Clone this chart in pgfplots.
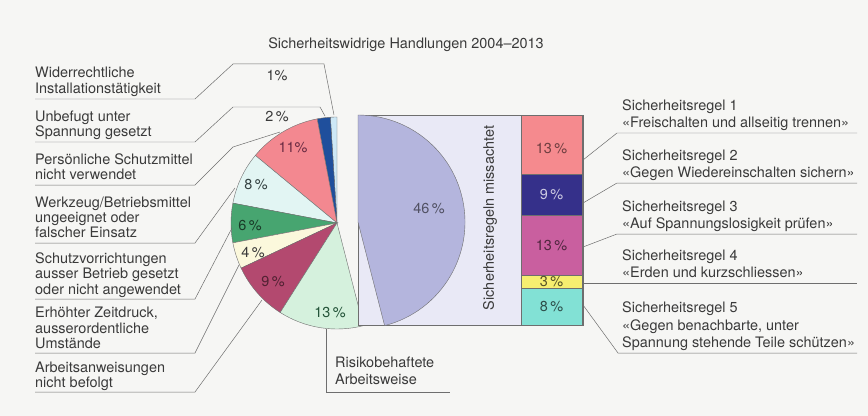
\documentclass[border=0pt]{standalone}
\usepackage{pgfplots}
\usepackage{pgfplotstable}
\pgfplotsset{compat=1.18}
\usepackage{fontspec}
\setmainfont{TeX Gyre Heros}

% colours
\definecolor{bg}{HTML}{F6F6F4}
\definecolor{txt}{HTML}{3A3A3A}
\definecolor{edge}{HTML}{6E6E6E}
\definecolor{pA}{HTML}{CDE8F6}
\definecolor{pB}{HTML}{1F4F9C}
\definecolor{pC}{HTML}{F38890}
\definecolor{pD}{HTML}{E2F5F3}
\definecolor{pE}{HTML}{47A570}
\definecolor{pF}{HTML}{FBF8DC}
\definecolor{pG}{HTML}{B3496F}
\definecolor{pH}{HTML}{D5F1DD}
\definecolor{big}{HTML}{B4B5DD}
\definecolor{boxbg}{HTML}{E9E9F6}
\definecolor{bA}{HTML}{F58A8E}
\definecolor{bB}{HTML}{35308A}
\definecolor{bC}{HTML}{C95F9F}
\definecolor{bD}{HTML}{F6EE70}
\definecolor{bE}{HTML}{82E1D5}

% left pie: slices counter-clockwise from the top
\pgfplotstableread{
v  col
1  pA
2  pB
11 pC
8  pD
6  pE
4  pF
9  pG
13 pH
}\piedata

\newcommand{\lab}[3]{\node[anchor=base west, inner sep=0pt, text=txt] at (axis cs:#1,#2) {#3};}

\begin{document}
\begin{tikzpicture}[font=\fontsize{14.5}{15.5}\selectfont]
\begin{axis}[
    name=main,
    width=868bp, height=416bp, scale only axis,
    xmin=0, xmax=868, ymin=0, ymax=416,
    y dir=reverse,
    hide axis, clip=false,
]
\fill[bg] (axis cs:0,0) rectangle (axis cs:868,416);

% title
\node[text=txt] at (axis cs:406,45) {Sicherheitswidrige Handlungen 2004--2013};

% pie slices from the table
\def\angstart{90}
\pgfplotstablegetrowsof{\piedata}
\pgfmathtruncatemacro\N{\pgfplotsretval-1}
\pgfplotsforeachungrouped \i in {0,...,\N}{%
  \pgfplotstablegetelem{\i}{v}\of\piedata \let\v\pgfplotsretval
  \pgfplotstablegetelem{\i}{col}\of\piedata \let\c\pgfplotsretval
  \pgfmathsetmacro\angend{\angstart+3.6*\v}%
  \edef\temp{\noexpand\filldraw[fill=\c, draw=edge, line width=0.4pt]
    (axis cs:337,223) -- ++(\angstart:106bp)
    arc[start angle=\angstart, end angle=\angend, radius=106bp] -- cycle;}%
  \temp
  \let\angstart\angend
}

% box behind the split-off part and the 46 % piece
\filldraw[fill=boxbg, draw=edge, line width=0.4pt] (axis cs:358,115) rectangle (axis cs:583,325);
\edef\temp{\noexpand\filldraw[fill=big, draw=edge, line width=0.4pt]
  (axis cs:358,222) -- ++(\angstart:107bp)
  arc[start angle=\angstart, end angle=450, radius=107bp] -- cycle;}
\temp

% slice values
\node[text=txt] at (axis cs:277,76) {1\%};
\node[text=txt] at (axis cs:277,117) {2\,\%};
\node[text=pG!60!black] at (axis cs:293,148) {11\%};
\node[text=txt!90!teal] at (axis cs:256,185) {8\,\%};
\node[text=pE!35!black] at (axis cs:250,226) {6\,\%};
\node[text=txt] at (axis cs:253,253) {4\,\%};
\node[text=pG!45!black] at (axis cs:273,282) {9\,\%};
\node[text=pE!50!black] at (axis cs:330,313) {13\,\%};
\node[text=big!45!black] at (axis cs:429,209) {46\,\%};
\node[rotate=90, text=txt] at (axis cs:490,218) {Sicherheitsregeln missachtet};

% left leader lines
\draw[edge, line width=0.5pt] (axis cs:35,99) -- (axis cs:195,99) -- (axis cs:233,64) -- (axis cs:324,64) -- (axis cs:334,115);
\draw[edge, line width=0.5pt] (axis cs:35,142) -- (axis cs:195,142) -- (axis cs:233,107) -- (axis cs:320,107) -- (axis cs:325,116);
\draw[edge, line width=0.5pt] (axis cs:35,185) -- (axis cs:195,185) -- (axis cs:233,147) -- (axis cs:280,132);
\draw[edge, line width=0.5pt] (axis cs:35,243) -- (axis cs:195,243) -- (axis cs:235,188);
\draw[edge, line width=0.5pt] (axis cs:35,299) -- (axis cs:195,299) -- (axis cs:232,228);
\draw[edge, line width=0.5pt] (axis cs:35,353) -- (axis cs:195,353) -- (axis cs:239,265);
\draw[edge, line width=0.5pt] (axis cs:35,392) -- (axis cs:195,392) -- (axis cs:262,300);
\draw[edge, line width=0.5pt] (axis cs:326,329) -- (axis cs:326,392) -- (axis cs:450,392);

% right leader lines
\draw[edge, line width=0.5pt] (axis cs:583,160) -- (axis cs:617,133) -- (axis cs:857,133);
\draw[edge, line width=0.5pt] (axis cs:583,203) -- (axis cs:617,183) -- (axis cs:857,183);
\draw[edge, line width=0.5pt] (axis cs:583,247) -- (axis cs:617,234) -- (axis cs:857,234);
\draw[edge, line width=0.5pt] (axis cs:583,283) -- (axis cs:857,283);
\draw[edge, line width=0.5pt] (axis cs:583,305) -- (axis cs:618,353) -- (axis cs:857,353);

% left labels
\lab{35}{78}{Widerrechtliche}
\lab{35}{93}{Installationst\"atigkeit}
\lab{35}{121}{Unbefugt unter}
\lab{35}{136}{Spannung gesetzt}
\lab{35}{164}{Pers\"onliche Schutzmittel}
\lab{35}{179}{nicht verwendet}
\lab{35}{207}{Werkzeug/Betriebsmittel}
\lab{35}{222}{ungeeignet oder}
\lab{35}{237}{falscher Einsatz}
\lab{35}{263}{Schutzvorrichtungen}
\lab{35}{278}{ausser Betrieb gesetzt}
\lab{35}{294}{oder nicht angewendet}
\lab{35}{317}{Erh\"ohter Zeitdruck,}
\lab{35}{333}{ausserordentliche}
\lab{35}{348}{Umst\"ande}
\lab{35}{372}{Arbeitsanweisungen}
\lab{35}{387}{nicht befolgt}
\lab{335}{367}{Risikobehaftete}
\lab{335}{384}{Arbeitsweise}

% right labels
\lab{622}{110}{Sicherheitsregel 1}
\lab{622}{127.5}{«Freischalten und allseitig trennen»}
\lab{622}{160}{Sicherheitsregel 2}
\lab{622}{177.5}{«Gegen Wiedereinschalten sichern»}
\lab{622}{211}{Sicherheitsregel 3}
\lab{622}{228.5}{«Auf Spannungslosigkeit pr\"ufen»}
\lab{622}{260}{Sicherheitsregel 4}
\lab{622}{277.5}{«Erden und kurzschliessen»}
\lab{622}{312.5}{Sicherheitsregel 5}
\lab{622}{330}{«Gegen benachbarte, unter}
\lab{622}{347.5}{Spannung stehende Teile sch\"utzen»}
\end{axis}

% stacked bar: the 46 % split by safety rule (bottom to top)
\begin{axis}[
    at={(521bp,91bp)}, anchor=south west,
    width=61bp, height=210bp, scale only axis,
    xmin=-0.5, xmax=0.5, ymin=0, ymax=46,
    ybar stacked, bar width=61bp,
    hide axis, clip=false,
]
\addplot[fill=bE, draw=edge, line width=0.3pt] coordinates {(0,8)};
\addplot[fill=bD, draw=edge, line width=0.3pt] coordinates {(0,3)};
\addplot[fill=bC, draw=edge, line width=0.3pt] coordinates {(0,13)};
\addplot[fill=bB, draw=edge, line width=0.3pt] coordinates {(0,9)};
\addplot[fill=bA, draw=edge, line width=0.3pt] coordinates {(0,13)};
\end{axis}

% values on the bar, in a bare axis over the same box
\begin{axis}[
    at={(521bp,91bp)}, anchor=south west,
    width=61bp, height=210bp, scale only axis,
    xmin=-0.5, xmax=0.5, ymin=0, ymax=46,
    hide axis, clip=false,
]
\node[text=bE!35!black] at (axis cs:0,4) {8\,\%};
\node[text=bD!35!black] at (axis cs:0,9.5) {3\,\%};
\node[text=bC!40!black] at (axis cs:0,17.5) {13\,\%};
\node[text=bB!25!white] at (axis cs:0,28.5) {9\,\%};
\node[text=bA!45!black] at (axis cs:0,38.6) {13\,\%};
\end{axis}
\end{tikzpicture}
\end{document}
